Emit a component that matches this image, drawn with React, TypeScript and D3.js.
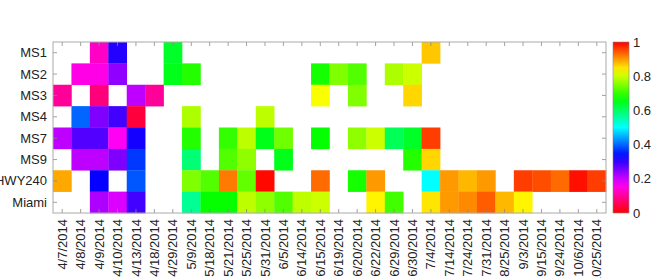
import React from "react";
import * as d3 from "d3";

const dates = ["4/7/2014","4/8/2014","4/9/2014","4/10/2014","4/13/2014","4/18/2014","4/29/2014","5/9/2014","5/18/2014","5/21/2014","5/25/2014","5/31/2014","6/5/2014","6/14/2014","6/15/2014","6/19/2014","6/20/2014","6/22/2014","6/29/2014","6/30/2014","7/4/2014","7/14/2014","7/24/2014","7/31/2014","8/25/2014","9/3/2014","9/15/2014","9/24/2014","10/6/2014","10/25/2014"];
const sites = ["MS1","MS2","MS3","MS4","MS7","MS9","HWY240","Miami"];

const _ = null;
const ms1 =   [_,_,0.13,0.31,_,_,0.64,_,_,_,_,_,_,_,_,_,_,_,_,_,0.87,_,_,_,_,_,_,_,_,_];
const ms2 =   [_,0.15,0.15,0.24,_,_,0.65,0.69,_,_,_,_,_,_,0.68,0.75,0.72,_,0.78,0.8,_,_,_,_,_,_,_,_,_,_];
const ms3 =   [0.1,_,0.08,_,0.21,0.1,_,_,_,_,_,_,_,_,0.83,_,0.75,_,_,0.86,_,_,_,_,_,_,_,_,_,_];
const ms4 =   [_,0.4,0.25,0.29,0.04,_,_,0.78,_,_,_,0.79,_,_,_,_,_,_,_,_,_,_,_,_,_,_,_,_,_,_];
const ms7 =   [0.21,0.28,0.28,0.16,0.32,_,_,0.69,_,0.7,0.79,0.65,0.74,_,0.67,_,0.76,0.8,0.61,0.64,0.96,_,_,_,_,_,_,_,_,_];
const ms9 =   [_,0.21,0.21,0.25,0.37,_,_,0.59,_,0.72,0.76,_,0.65,_,_,_,_,_,_,0.69,0.86,_,_,_,_,_,_,_,_,_];
const hwy240 = [0.89,_,0.33,_,0.39,_,_,0.75,0.72,0.92,0.73,0.995,_,_,0.93,_,0.68,0.9,_,_,0.5,0.9,0.88,0.9,_,0.96,0.95,0.93,0.99,0.96];
const miami = [_,_,0.22,0.19,0.29,_,_,0.57,0.67,0.67,0.79,0.76,0.72,0.79,0.8,_,_,0.84,0.71,_,0.85,0.9,0.91,0.94,0.88,0.84,_,_,_,_];
const rows = [ms1, ms2, ms3, ms4, ms7, ms9, hwy240, miami];
const cbTicks = [0, 0.2, 0.4, 0.6, 0.8, 1];

const color = (v: number) => d3.hsl((1 - v) * 360, 1, 0.5).toString();

export default function App() {
  const W = 659, H = 278;
  const left = 53, right = 606, top = 42, bottom = 213;
  const x = d3.scaleBand<string>().domain(dates).range([left, right]);
  const y = d3.scaleBand<string>().domain(sites).range([top, bottom]);
  const cbX = 613, cbW = 16;
  const cy = d3.scaleLinear().domain([0, 1]).range([bottom, top]);
  const stops = d3.range(0, 1.0001, 0.05);
  const font = "'Liberation Sans', Arial, sans-serif";
  const tickC = "#888";
  return (
    <svg width={W} height={H} style={{ position: "absolute", left: 0, top: 0, fontFamily: font }}>
      <defs>
        <linearGradient id="cb" x1="0" y1="1" x2="0" y2="0">
          {stops.map((s, i) => (
            <stop key={i} offset={s} stopColor={color(s)} />
          ))}
        </linearGradient>
      </defs>
      <rect x={left} y={top} width={right - left} height={bottom - top} fill="#fff" />
      {rows.map((r, ri) =>
        r.map((v, ci) =>
          v === null ? null : (
            <rect key={`${ri}-${ci}`} x={x(dates[ci])} y={y(sites[ri])} width={x.bandwidth() + 0.3} height={y.bandwidth() + 0.3} fill={color(v)} />
          )
        )
      )}
      {dates.map((d) => {
        const cx = (x(d) as number) + x.bandwidth() / 2;
        return (
          <g key={d}>
            <line x1={cx} x2={cx} y1={top} y2={top + 4} stroke={tickC} strokeWidth={0.8} />
            <line x1={cx} x2={cx} y1={bottom} y2={bottom - 4} stroke={tickC} strokeWidth={0.8} />
            <text transform={`translate(${cx},${bottom + 6}) rotate(-90)`} textAnchor="end" dy="0.35em" fontSize={13} fill="#222">{d}</text>
          </g>
        );
      })}
      {sites.map((s) => {
        const cyy = (y(s) as number) + y.bandwidth() / 2;
        return (
          <g key={s}>
            <line x1={left} x2={left + 4} y1={cyy} y2={cyy} stroke={tickC} strokeWidth={0.8} />
            <line x1={right} x2={right - 4} y1={cyy} y2={cyy} stroke={tickC} strokeWidth={0.8} />
            <text x={left - 6} y={cyy} textAnchor="end" dy="0.35em" fontSize={13} fill="#222">{s}</text>
          </g>
        );
      })}
      <rect x={left} y={top} width={right - left} height={bottom - top} fill="none" stroke="#aaa" strokeWidth={1} />
      <rect x={cbX} y={top} width={cbW} height={bottom - top} fill="url(#cb)" stroke="#888" strokeWidth={0.6} />
      {cbTicks.map((t) => (
        <text key={t} x={cbX + cbW + 4} y={cy(t)} dy="0.35em" fontSize={13} fill="#222">{t}</text>
      ))}
    </svg>
  );
}
